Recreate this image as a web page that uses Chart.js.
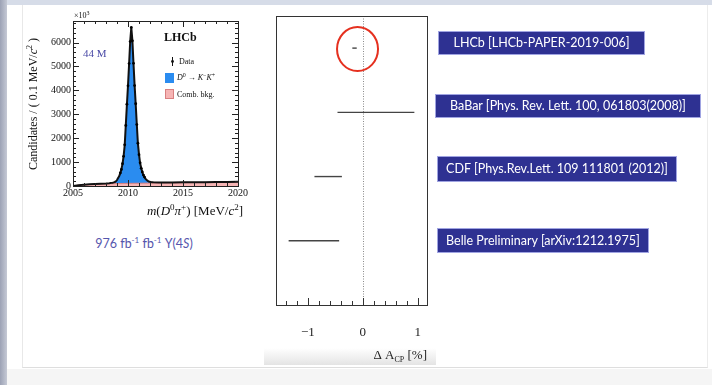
<!DOCTYPE html>
<html>
<head>
<meta charset="utf-8">
<title>Delta ACP</title>
<script src="https://cdn.jsdelivr.net/npm/chart.js@4.4.1/dist/chart.umd.min.js"></script>
<style>
	html, body { margin: 0; padding: 0; }
	body { width: 712px; height: 385px; position: relative; overflow: hidden; background: #f5f5f5; }
	.abs { position: absolute; }
	#topBar { left: 0; top: 0; width: 712px; height: 5px; background: #d6dce8; }
	#leftBar { left: 0; top: 0; width: 7px; height: 385px; background: linear-gradient(to right, #9ca2b5, #c5c9d5); }
	#sheet { left: 7px; top: 5px; width: 705px; height: 364px; background: #fff; }
	#sheetLine { left: 22px; top: 5px; width: 684px; height: 362px; border-left: 1px solid #e8e8e8; border-right: 1px solid #ececec; border-bottom: 1px solid #dedede; }
	#titleBand { left: 264px; top: 348px; width: 172px; height: 17px; background: linear-gradient(#ffffff, #e4e4e4); }
	#lumi { left: 64px; top: 235px; width: 160px; text-align: center; font: 12.5px Lato, sans-serif; color: #5656ad; white-space: nowrap; }
	#lumi sup { font-size: 8px; }
	.tag { position: absolute; background: #2e3192; color: #fff; font: 12.5px Lato, sans-serif; text-align: center; box-shadow: 0 0 0 1px #a0a4e2; white-space: nowrap; }
</style>
</head>
<body>
<div id="topBar" class="abs"></div>
<div id="leftBar" class="abs"></div>
<div id="sheet" class="abs"></div>
<div id="sheetLine" class="abs"></div>
<div id="titleBand" class="abs"></div>
<div id="lumi" class="abs">976 fb<sup>-1</sup> fb<sup>-1</sup> Υ(4<i>S</i>)</div>
<canvas id="cHist" class="abs" width="260" height="260" style="left:0;top:0"></canvas>
<canvas id="cForest" class="abs" width="190" height="380" style="left:260px;top:0"></canvas>
<div id="tags"></div>

<script>
'use strict'

//////////////////////////////////////////////////////////////////////
// data

// left: m(D0 pi+) [MeV/c2], candidates per 0.1 MeV (x10^3)
const massTicks = [2005, 2010, 2015, 2020];
const countTicks = [0, 1000, 2000, 3000, 4000, 5000, 6000];

const fitMass = [2005.0, 2005.5, 2006.0, 2006.5, 2007.0, 2007.5, 2008.0,
	2008.3, 2008.4, 2008.5, 2008.6, 2008.7, 2008.8, 2008.9,
	2009.0, 2009.1, 2009.2, 2009.3, 2009.4, 2009.5, 2009.6, 2009.7, 2009.8, 2009.9,
	2010.0, 2010.1, 2010.2, 2010.3, 2010.4, 2010.5, 2010.6, 2010.7, 2010.8, 2010.9,
	2011.0, 2011.1, 2011.2, 2011.3, 2011.4, 2011.5, 2011.6, 2011.7, 2011.8, 2011.9,
	2012.0, 2012.1, 2012.2, 2012.3, 2012.8, 2013.5, 2014.0, 2015.0, 2016.0, 2017.0, 2018.0, 2019.0, 2020.0];
const fitTotal = [0, 36, 56, 70, 82, 92, 104,
	118, 124, 131, 140, 152, 168, 195,
	250, 330, 420, 530, 700, 920, 1250, 1700, 2550, 3400,
	4200, 5100, 6050, 6620, 6080, 5120, 4220, 3430, 2580, 1780,
	1320, 960, 750, 580, 460, 370, 300, 250, 215, 190,
	175, 165, 158, 152, 146, 145, 148, 152, 157, 161, 166, 171, 176];

const bkgMass = [2005.0, 2005.5, 2006, 2007, 2008, 2009, 2010, 2011, 2012, 2013, 2014, 2015, 2016, 2017, 2018, 2019, 2020];
const bkgCounts = [0, 32, 50, 74, 92, 102, 110, 116, 122, 128, 134, 140, 146, 151, 156, 162, 168];

const dataMass = [2009.3, 2009.4, 2009.5, 2009.6, 2009.7, 2009.8, 2009.9, 2010.0, 2010.1, 2010.2, 2010.3,
	2010.4, 2010.5, 2010.6, 2010.7, 2010.8, 2010.9, 2011.0, 2011.1, 2011.2, 2011.3, 2011.4, 2011.5];
const dataCounts = [545, 690, 935, 1240, 1720, 2530, 3420, 4190, 5120, 6040, 6630,
	6070, 5130, 4200, 3440, 2570, 1790, 1310, 970, 740, 590, 455, 375];

// right: Delta A_CP [%] comparison
const experiments = ['LHCb', 'BaBar', 'CDF', 'Belle Preliminary'];
const references = ['[LHCb-PAPER-2019-006]', '[Phys. Rev. Lett. 100, 061803(2008)]', '[Phys.Rev.Lett. 109 111801 (2012)]', '[arXiv:1212.1975]'];
const acpCentral = [-0.15, 0.24, -0.63, -0.89];
const acpError = [0.04, 0.70, 0.25, 0.46];
const acpRow = [1, 3, 5, 7];
const acpTicks = [-1, 0, 1];


//////////////////////////////////////////////////////////////////////
// helpers

const SERIF = '"Liberation Serif", "DejaVu Serif", serif';

// 上付き・下付き混じりの文字列を描く  parts: [text, font, dy]
let drawRich = function (ctx, x, y, parts, align) {
	let w = 0;
	parts.forEach((p) => { ctx.font = p[1]; w += ctx.measureText(p[0]).width; });
	let cx = align === 'right' ? x - w : (align === 'center' ? x - w / 2 : x);
	parts.forEach((p) => {
		ctx.font = p[1];
		ctx.fillText(p[0], cx, y + (p[2] || 0));
		cx += ctx.measureText(p[0]).width;
	});
};

// ROOT風の枠と内向きの目盛り
const rootFrame = {
	id: 'rootFrame',
	afterDatasetsDraw(chart, args, o) {
		const { ctx, chartArea: a, scales: { x, y } } = chart;
		ctx.save();
		ctx.strokeStyle = o.color || '#222';
		ctx.lineWidth = 1;
		ctx.strokeRect(Math.round(a.left) + 0.5, Math.round(a.top) + 0.5, Math.round(a.width), Math.round(a.height));

		let each = function (min, max, step, f) {
			for (let k = Math.ceil(min / step - 1e-9); k * step <= max + 1e-9; k++) { f(k * step); }
		};

		ctx.beginPath();
		if (o.xMinor) {
			each(x.min, x.max, o.xMinor, (v) => {
				let px = Math.round(x.getPixelForValue(v)) + 0.5;
				let major = Math.abs(v / o.xMajor - Math.round(v / o.xMajor)) < 1e-6;
				let len = major ? o.majorLen : o.minorLen;
				ctx.moveTo(px, a.bottom); ctx.lineTo(px, a.bottom - len);
				if (o.allSides) { ctx.moveTo(px, a.top); ctx.lineTo(px, a.top + len); }
			});
		}
		if (o.yMinor) {
			each(y.min, y.max, o.yMinor, (v) => {
				let py = Math.round(y.getPixelForValue(v)) + 0.5;
				let major = Math.abs(v / o.yMajor - Math.round(v / o.yMajor)) < 1e-6;
				let len = major ? o.majorLen : o.minorLen;
				ctx.moveTo(a.left, py); ctx.lineTo(a.left + len, py);
				if (o.allSides) { ctx.moveTo(a.right, py); ctx.lineTo(a.right - len, py); }
			});
		}
		ctx.stroke();
		ctx.restore();
	}
};


//////////////////////////////////////////////////////////////////////
// left chart : m(D0 pi+)

const histText = {
	id: 'histText',
	afterDraw(chart) {
		const { ctx, chartArea: a } = chart;
		ctx.save();
		ctx.fillStyle = '#111';
		ctx.textBaseline = 'middle';

		// x10^3
		drawRich(ctx, a.left + 1, 16, [['×10', '8px ' + SERIF], ['3', '6px ' + SERIF, -3]], 'left');

		// 44 M
		ctx.fillStyle = '#4a4aa6';
		ctx.font = '11px ' + SERIF;
		ctx.fillText('44 M', 83, 54);

		// LHCb + legend
		ctx.fillStyle = '#111';
		ctx.font = 'bold 12px ' + SERIF;
		ctx.fillText('LHCb', 164, 38);

		const f = '8px ' + SERIF, fi = 'italic 8px ' + SERIF, fs = '6px ' + SERIF;
		// Data
		ctx.strokeStyle = '#111';
		ctx.lineWidth = 1;
		ctx.beginPath(); ctx.moveTo(172.5, 57); ctx.lineTo(172.5, 66); ctx.stroke();
		ctx.beginPath(); ctx.arc(172.5, 61.5, 1.4, 0, Math.PI * 2); ctx.fill();
		ctx.font = f; ctx.fillText('Data', 179, 62);
		// signal
		ctx.fillStyle = '#2a8cf0';
		ctx.fillRect(165, 73, 9, 10);
		ctx.fillStyle = '#111';
		drawRich(ctx, 177, 78, [['D', fi], ['0', fs, -3], [' → ', f], ['K', fi], ['−', fs, -3], ['K', fi], ['+', fs, -3]], 'left');
		// comb. bkg
		ctx.fillStyle = 'rgba(246,180,180,1)';
		ctx.strokeStyle = '#d98080';
		ctx.fillRect(165, 89, 9, 10);
		ctx.strokeRect(165.5, 89.5, 8, 9);
		ctx.fillStyle = '#111';
		ctx.font = f; ctx.fillText('Comb. bkg.', 177, 95);

		// axis titles
		drawRich(ctx, a.right + 5, 212, [['m', 'italic 13px ' + SERIF], ['(', '13px ' + SERIF], ['D', 'italic 13px ' + SERIF], ['0', '9px ' + SERIF, -4],
			['π', 'italic 13px ' + SERIF], ['+', '9px ' + SERIF, -4], [') [MeV/', '13px ' + SERIF], ['c', 'italic 13px ' + SERIF], ['2', '9px ' + SERIF, -4], [']', '13px ' + SERIF]], 'right');

		ctx.translate(34, 104);
		ctx.rotate(-Math.PI / 2);
		drawRich(ctx, 0, 0, [['Candidates / ( 0.1 MeV/', '12px ' + SERIF], ['c', 'italic 12px ' + SERIF], ['2', '8px ' + SERIF, -4], [' )', '12px ' + SERIF]], 'center');
		ctx.restore();
	}
};

const ctxHist = document.getElementById('cHist').getContext('2d');
const histChart = new Chart(ctxHist, {
	type: 'line',
	data: {
		datasets: [
			{
				label: 'Data', data: dataMass.map((m, i) => ({ x: m, y: dataCounts[i] })), showLine: false,
				pointRadius: 1.4, pointBackgroundColor: '#000', pointBorderWidth: 0, order: 1
			},
			{
				label: 'Fit', data: fitMass.map((m, i) => ({ x: m, y: fitTotal[i] })), borderColor: '#111',
				borderWidth: 2, pointRadius: 0, fill: false, order: 2
			},
			{
				label: 'Comb. bkg.', data: bkgMass.map((m, i) => ({ x: m, y: bkgCounts[i] })), borderColor: '#d98080',
				borderWidth: 1, backgroundColor: 'rgba(246,180,180,1)', fill: 'origin', pointRadius: 0, order: 3
			},
			{
				label: 'D0 → K−K+', data: fitMass.map((m, i) => ({ x: m, y: fitTotal[i] })), borderWidth: 0,
				backgroundColor: '#2a8cf0', fill: 'origin', pointRadius: 0, order: 4
			}
		]
	},
	options: {
		responsive: false,
		animation: false,
		events: [],
		layout: { padding: { left: 0, top: 21, right: 22, bottom: 0 } },
		plugins: {
			legend: { display: false },
			tooltip: { enabled: false },
			rootFrame: { xMajor: 5, xMinor: 1, yMajor: 1000, yMinor: 200, majorLen: 6, minorLen: 3, allSides: true }
		},
		scales: {
			x: {
				type: 'linear', min: 2005, max: 2020,
				afterBuildTicks: (s) => { s.ticks = massTicks.map((v) => ({ value: v })); },
				afterFit: (s) => { s.height = 74; },
				ticks: { padding: 1, maxRotation: 0, autoSkip: false, color: '#111', font: { family: SERIF, size: 10 }, callback: (v) => String(v) },
				grid: { display: false, drawTicks: false, tickLength: 0 },
				border: { display: false }
			},
			y: {
				type: 'linear', min: 0, max: 6900,
				afterBuildTicks: (s) => { s.ticks = countTicks.map((v) => ({ value: v })); },
				afterFit: (s) => { s.width = 73; },
				ticks: { padding: 2, autoSkip: false, color: '#111', font: { family: SERIF, size: 10 }, callback: (v) => String(v) },
				grid: { display: false, drawTicks: false, tickLength: 0 },
				border: { display: false }
			}
		}
	},
	plugins: [rootFrame, histText]
});


//////////////////////////////////////////////////////////////////////
// middle chart : Delta A_CP

const forestText = {
	id: 'forestText',
	beforeDatasetsDraw(chart) {
		const { ctx, chartArea: a, scales: { x } } = chart;
		let px = Math.round(x.getPixelForValue(0)) + 0.5;
		ctx.save();
		ctx.strokeStyle = '#8a8a8a';
		ctx.lineWidth = 1;
		ctx.setLineDash([1, 1.5]);
		ctx.beginPath(); ctx.moveTo(px, a.top); ctx.lineTo(px, a.bottom); ctx.stroke();
		ctx.restore();
	},
	afterDraw(chart) {
		const { ctx, chartArea: a, scales: { x, y } } = chart;
		ctx.save();
		// LHCbを囲む赤丸
		let cx = x.getPixelForValue(acpCentral[0]) + 3;
		let cy = y.getPixelForValue(acpRow[0]) + 1;
		ctx.strokeStyle = '#e5301f';
		ctx.lineWidth = 2;
		ctx.beginPath(); ctx.ellipse(cx, cy, 20.5, 22, 0, 0, Math.PI * 2); ctx.stroke();

		// axis title
		ctx.fillStyle = '#222';
		ctx.textBaseline = 'middle';
		drawRich(ctx, a.right, 356, [['Δ A', '13px ' + SERIF], ['CP', '8px ' + SERIF, 4], [' [%]', '13px ' + SERIF]], 'right');
		ctx.restore();
	}
};

const ctxForest = document.getElementById('cForest').getContext('2d');
const forestChart = new Chart(ctxForest, {
	type: 'line',
	data: {
		datasets: experiments.map((name, i) => ({
			label: name,
			data: [{ x: acpCentral[i] - acpError[i], y: acpRow[i] }, { x: acpCentral[i] + acpError[i], y: acpRow[i] }],
			borderColor: '#444', borderWidth: 1.4, pointRadius: 0, fill: false
		}))
	},
	options: {
		responsive: false,
		animation: false,
		events: [],
		layout: { padding: { left: 16, top: 16, right: 23, bottom: 0 } },
		plugins: {
			legend: { display: false },
			tooltip: { enabled: false },
			rootFrame: { xMajor: 1, xMinor: 0.2, majorLen: 7, minorLen: 4, allSides: false, color: '#333' }
		},
		scales: {
			x: {
				type: 'linear', min: -1.58, max: 1.17,
				afterBuildTicks: (s) => { s.ticks = acpTicks.map((v) => ({ value: v })); },
				afterFit: (s) => { s.height = 75; },
				ticks: {
					padding: 20, autoSkip: false, maxRotation: 0, color: '#222', font: { family: SERIF, size: 13 },
					callback: (v) => (v < 0 ? '\u2212' + Math.abs(v) : String(v))
				},
				grid: { display: false, drawTicks: false, tickLength: 0 },
				border: { display: false }
			},
			y: { type: 'linear', min: 0, max: 9, reverse: true, display: false }
		}
	},
	plugins: [rootFrame, forestText]
});


//////////////////////////////////////////////////////////////////////
// right : reference tags

const tagBoxes = [
	{ l: 439, t: 32, w: 205, h: 22 },
	{ l: 436, t: 95, w: 264, h: 22 },
	{ l: 438, t: 157, w: 238, h: 24 },
	{ l: 438, t: 229, w: 210, h: 23 }
];
let divTags = document.getElementById('tags');
experiments.forEach((name, i) => {
	let d = document.createElement('div');
	let b = tagBoxes[i];
	d.className = 'tag';
	d.style.left = b.l + 'px';
	d.style.top = b.t + 'px';
	d.style.width = b.w + 'px';
	d.style.height = b.h + 'px';
	d.style.lineHeight = b.h + 'px';
	d.textContent = name + ' ' + references[i];
	divTags.appendChild(d);
});
</script>
</body>
</html>
